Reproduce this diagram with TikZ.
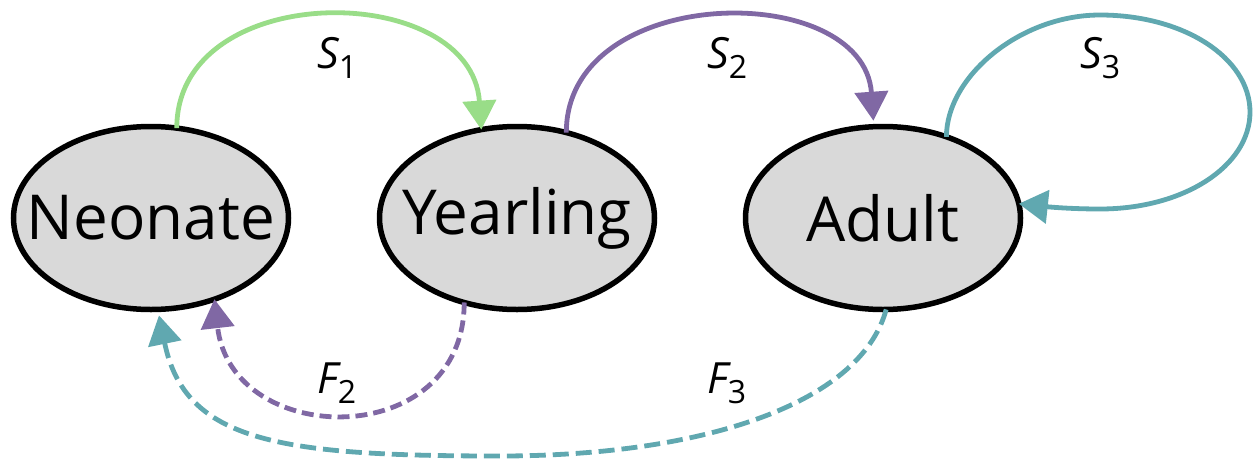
\documentclass[tikz,border=0pt]{standalone}
\usepackage{fontspec}
\setmainfont{Open Sans}
\usetikzlibrary{arrows.meta,shapes.geometric}
\definecolor{cgreen}{RGB}{153,221,136}
\definecolor{cpurple}{RGB}{128,104,164}
\definecolor{cteal}{RGB}{96,168,176}
\definecolor{cfill}{RGB}{217,217,217}
\newcommand\sublab[2]{{\itshape #1}\raisebox{-10pt}{\fontsize{32}{32}\selectfont #2}}
\begin{document}
\begin{tikzpicture}[x=1pt,y=-1pt,
  stage/.style={ellipse, draw=black, line width=5.5pt, fill=cfill,
    minimum width=275pt, minimum height=183pt, inner sep=0pt, outer sep=0pt,
    font=\fontsize{62}{62}\selectfont},
  lab/.style={anchor=base west, inner sep=0pt, font=\fontsize{43}{43}\selectfont},
  conn/.style={line width=4.8pt, -{Triangle[length=29pt,width=33pt]}},
  purpdash/.style={conn, cpurple, dash pattern=on 12pt off 6pt},
  tealdash/.style={conn, cteal, dash pattern=on 16pt off 7pt}]
\useasboundingbox (0,0) rectangle (1254,461);
\node[stage] (neo) at (151,218) {\makebox[0pt]{Neonate}};
\node[stage] (yea) at (517,218) {\makebox[0pt]{Yearling}};
\node[stage] (adu) at (883,218) {\makebox[0pt]{Adult}};

\node[lab] (s1) at (317,68) {\sublab{S}{1}};
\node[lab] (s2) at (707,68) {\sublab{S}{2}};
\node[lab] (s3) at (1080,68) {\sublab{S}{3}};
\node[lab] (f2) at (317,393) {\sublab{F}{2}};
\node[lab] (f3) at (707,393) {\sublab{F}{3}};

% S1
\draw[conn, cgreen] (neo.74) .. controls +(0,-150) and +(-10,-150) .. (yea.112);
% S2
\draw[conn, cpurple] (yea.60) .. controls +(0,-150) and +(-10,-142) .. ([yshift=6pt]adu.96);
% S3 self loop
\draw[conn, cteal] (adu.52) .. controls +(0,-60) and (1020,15) .. (1100,15)
  .. controls (1184,15) and (1250,58) .. (1250,112)
  .. controls (1250,166) and (1184,209) .. (1100,209)
  .. controls (1065,209) and (1040,206) .. (adu.6);
% F2
\draw[purpdash] (yea.238) .. controls +(0,150) and +(17,150) .. (neo.308);
% F3
\draw[tealdash] (adu.272) .. controls (860,405) and (700,456) .. (500,456)
  .. controls (280,456) and (185,442) .. ([yshift=-6pt]neo.275);
\end{tikzpicture}
\end{document}
